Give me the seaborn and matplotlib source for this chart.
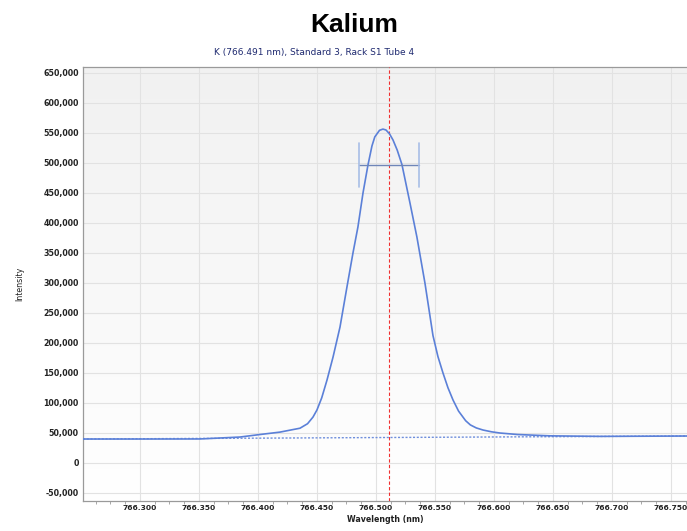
import numpy as np
import pandas as pd
import matplotlib
matplotlib.use("Agg")
import matplotlib.pyplot as plt
import matplotlib.ticker as mticker
import seaborn as sns

# ---- data ----
wavelength = [766.2517, 766.3000, 766.3508, 766.3847, 766.4017, 766.4186, 766.4356, 766.4420,
              766.4466, 766.4500, 766.4540, 766.4585, 766.4636, 766.4695, 766.4754, 766.4805,
              766.4847, 766.4890, 766.4932, 766.4966, 766.4990, 766.5030, 766.5059, 766.5085,
              766.5115, 766.5144, 766.5180, 766.5220, 766.5288, 766.5347, 766.5415, 766.5483,
              766.5525, 766.5568, 766.5610, 766.5653, 766.5700, 766.5760, 766.5800, 766.5850,
              766.5907, 766.5980, 766.6051, 766.6200, 766.6475, 766.6898, 766.7636]
intensity = [39500, 39500, 39600, 42800, 47000, 51000, 57500, 65000,
             76000, 88000, 108000, 137800, 176000, 226000, 292800, 349500,
             392800, 449500, 496000, 528000, 543000, 554000, 556000, 554500,
             548000, 538000, 521000, 497000, 433000, 376000, 299500, 212000,
             177000, 149500, 125000, 104500, 86000, 70000, 63000, 58000,
             54500, 51500, 49500, 47000, 44800, 43900, 44500]
baseline_wl = [766.2517, 766.7636]
baseline_int = [39500, 44500]
peak_center = 766.511
window_left = 766.4856
window_right = 766.5364
window_level = 496000
cap_low, cap_high = 459000, 533000

title = "Kalium"
subtitle = "K (766.491 nm), Standard 3, Rack S1 Tube 4"
xticks = [766.300, 766.350, 766.400, 766.450, 766.500, 766.550, 766.600, 766.650, 766.700, 766.750]
yticks = list(range(-50000, 650001, 50000))

sns.set_theme(style="whitegrid")
plt.rcParams['font.family'] = ['DejaVu Sans']

fig = plt.figure(figsize=(6.87, 5.31), dpi=100)
ax = fig.add_axes([83/687, 1 - 501/531, 1 - 83/687, (501 - 67)/531])

# gradient background
grad = np.linspace(0, 1, 256).reshape(-1, 1)
ax.imshow(grad, extent=[0, 1, 0, 1], transform=ax.transAxes, aspect='auto',
          cmap=matplotlib.colors.LinearSegmentedColormap.from_list("bg", ["#ffffff", "#f1f1f1"]),
          origin='lower', zorder=0)

df = pd.DataFrame({"Wavelength": wavelength, "Intensity": intensity})
dfb = pd.DataFrame({"Wavelength": baseline_wl, "Intensity": baseline_int})
sns.lineplot(data=df, x="Wavelength", y="Intensity", ax=ax, color="#5b80d8", linewidth=1.2, zorder=4)
sns.lineplot(data=dfb, x="Wavelength", y="Intensity", ax=ax, color="#6f8fdc", linewidth=1.0,
             linestyle=(0, (1.5, 1.2)), zorder=3)

ax.axvline(peak_center, color="#f03030", linewidth=0.8, linestyle=(0, (3, 2)), zorder=3)
ax.plot([window_left, window_right], [window_level, window_level], color="#6f86b8", linewidth=1.0, zorder=5)
ax.plot([window_left, window_left], [cap_low, cap_high], color="#a8bee6", linewidth=1.2, zorder=5)
ax.plot([window_right, window_right], [cap_low, cap_high], color="#a8bee6", linewidth=1.2, zorder=5)

ax.set_xlim(766.2517, 766.7636)
ax.set_ylim(-63800, 659500)
ax.set_xticks(xticks)
ax.set_yticks(yticks)
ax.xaxis.set_major_formatter(mticker.FormatStrFormatter('%.3f'))
ax.yaxis.set_major_formatter(mticker.FuncFormatter(lambda v, p: f"{int(v):,}"))
ax.xaxis.set_minor_locator(mticker.MultipleLocator(0.0125))
ax.tick_params(axis='y', which='major', labelsize=5.7, labelcolor="#222222", length=0, pad=3)
ax.tick_params(axis='x', which='major', labelsize=5.4, labelcolor="#222222", length=0, pad=3)
ax.tick_params(axis='x', which='minor', bottom=True, length=2, color="#999999", width=0.6)
ax.grid(True, which='major', color="#e2e2e2", linewidth=0.8)
ax.grid(False, which='minor')

for s in ['left', 'bottom', 'top']:
    ax.spines[s].set_color("#9a9a9a")
    ax.spines[s].set_linewidth(0.9)
ax.spines['right'].set_visible(False)

ax.set_xlabel("Wavelength (nm)", fontsize=5.7, fontweight='bold', color="#222222", labelpad=3)
ax.set_ylabel("Intensity", fontsize=5.7, color="#222222", labelpad=14)
for lbl in ax.get_xticklabels() + ax.get_yticklabels():
    lbl.set_fontweight('bold')

fig.text(354/687, 1 - 25/531, title, ha='center', va='center', fontsize=19, fontweight='bold',
         family=['Liberation Sans', 'DejaVu Sans'], color='black')
fig.text(314/687, 1 - 53/531, subtitle, ha='center', va='center', fontsize=6.5, color="#1f2a70")

fig.savefig("out.png", dpi=100)
